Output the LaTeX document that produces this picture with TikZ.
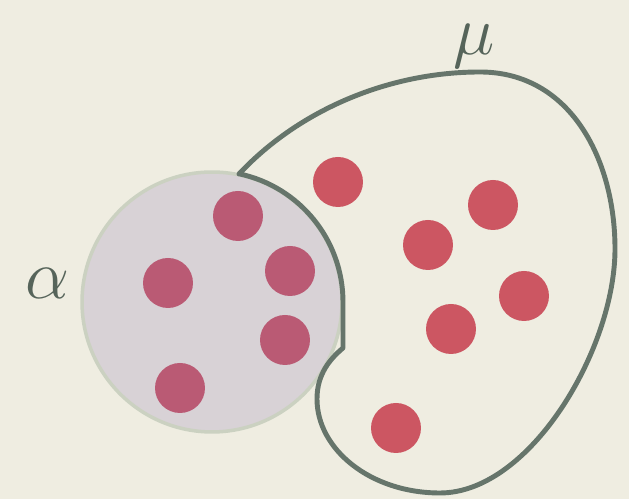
\documentclass[tikz,border=0pt]{standalone}
\usepackage{tikz}
\usetikzlibrary{positioning}

\definecolor{paper}{HTML}{EFEDE1}
\definecolor{setfill}{HTML}{D8D2D6}
\definecolor{setrim}{HTML}{CBD1C1}
\definecolor{blobline}{HTML}{66756B}
\definecolor{dotred}{HTML}{CC5662}
\definecolor{dotmauve}{HTML}{BA5A74}
\definecolor{labelcol}{HTML}{56645A}

\begin{document}
\begin{tikzpicture}[
    x=0.02cm, y=0.02cm,
    point/.style={circle, minimum size=1cm, inner sep=0pt, fill=dotred},
    inpoint/.style={point, fill=dotmauve},
    setlabel/.style={text=labelcol, font=\Huge, inner sep=0pt, scale=1.6}
]

% fond
\fill[paper] (0,0) rectangle (629,499);
\useasboundingbox (0,0) rectangle (629,499);

% ensemble alpha
\node[circle, minimum size=5.2cm, inner sep=0pt, fill=setfill, draw=setrim, line width=2pt] (alpha) at (212,197) {};

% contour mu
\draw[blobline, line width=2.8pt, line join=round]
    (239,325) .. controls (300,390) and (390,427) .. (480,427)
    .. controls (570,427) and (615,340) .. (615,250)
    .. controls (615,150) and (530,6) .. (440,6)
    .. controls (370,6) and (317,50) .. (317,100)
    .. controls (317,125) and (330,140) .. (343,151)
    -- (343,197) arc[start angle=0, end angle=78, radius=131] -- cycle;

% points dans alpha
\node[inpoint] (a1) at (238,283) {};
\node[inpoint] (a2) at (168,216) {};
\node[inpoint] (a3) at (290,228) {};
\node[inpoint] (a4) at (285,159) {};
\node[inpoint] (a5) at (180,111) {};

% points dans mu
\node[point] (m1) at (338,317) {};
\node[point] (m2) at (428,254) {};
\node[point] (m3) at (493,294) {};
\node[point] (m4) at (524,203) {};
\node[point] (m5) at (451,170) {};
\node[point] (m6) at (396,71) {};

% etiquettes
\node[setlabel] (alab) at (48,216) {$\alpha$};
\node[setlabel] (mlab) at (474,453) {$\mu$};

\end{tikzpicture}
\end{document}
